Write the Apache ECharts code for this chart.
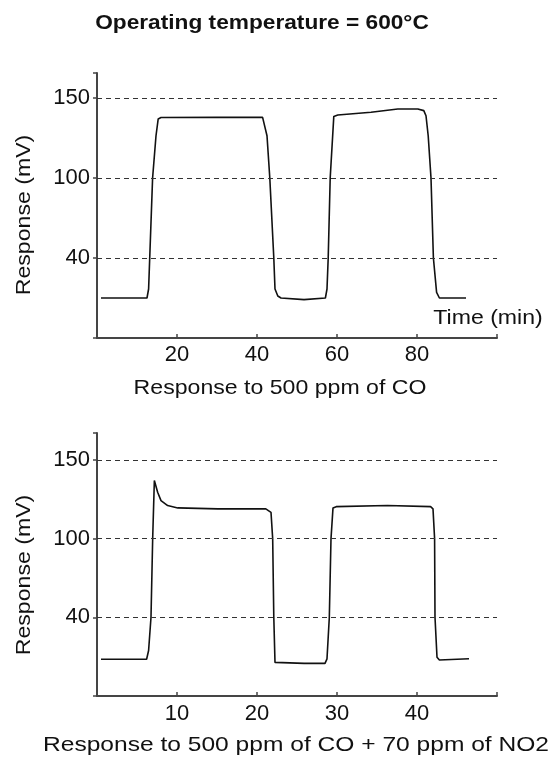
<!DOCTYPE html>
<html>
<head>
<meta charset="utf-8">
<style>
  html, body { margin: 0; padding: 0; background: #fff; }
  #chart { width: 558px; height: 759px; }
</style>
<script src="https://cdn.jsdelivr.net/npm/echarts@6/dist/echarts.min.js"></script>
</head>
<body>
<div id="chart"></div>
<script>
// Response to 500 ppm CO (time in min, response in mV)
const coTime = [1, 12.5, 12.9, 13.9, 14.75, 15.3, 16, 30, 41.4, 42.5, 43.2, 44.2, 44.5, 45.2, 46,
  51.75, 57.1, 57.5, 57.8, 58.3, 59.2, 60.2, 68.5, 75.2, 80.2, 81.7, 82.25, 82.8, 83.5, 84.1, 84.9, 85.6, 92.25];
const coResponse = [20, 20, 24.5, 100, 126.4, 136.9, 137.8, 138, 137.9, 126.4, 100, 40, 24.5, 21, 20,
  19.2, 20, 24.5, 40, 100, 138.5, 139.4, 141.1, 143.1, 143.1, 142.1, 138.9, 126.4, 100, 40, 22.8, 20, 20];

// Response to 500 ppm CO + 70 ppm NO2
const mixTime = [0.5, 6.2, 6.45, 6.75, 6.96, 7.17, 7.58, 8.0, 8.83, 10.1, 15.1, 21.1, 21.75, 21.96, 22.1, 22.25,
  25.9, 28.5, 28.75, 29.04, 29.25, 29.5, 29.9, 36.3, 41.7, 42.0, 42.2, 42.25, 42.5, 42.8, 46.5];
const mixResponse = [18.7, 18.7, 23.1, 40, 100, 136.9, 129.4, 124.1, 121, 119.5, 118.9, 118.9, 116.7, 100, 40, 17.1,
  16.6, 16.6, 18.9, 40, 100, 119.5, 120.3, 121, 120.3, 118.9, 100, 40, 19.7, 18.3, 18.9];

// Tick labels
const yTickLabels = [40, 100, 150];          // response levels, evenly spaced on the axis
const coTimeTicks = [20, 40, 60, 80];
const mixTimeTicks = [10, 20, 30, 40];

// The response axis is drawn with evenly spaced reference levels (0, 40, 100, 150 mV);
// values are placed piecewise-linearly between them.
const levelAnchors = [0].concat(yTickLabels);
function mvToLevel(v) {
  for (let i = 0; i < levelAnchors.length - 1; i++) {
    if (v <= levelAnchors[i + 1]) {
      return i + (v - levelAnchors[i]) / (levelAnchors[i + 1] - levelAnchors[i]);
    }
  }
  const n = levelAnchors.length - 1;
  return n + (v - levelAnchors[n]) / (levelAnchors[n] - levelAnchors[n - 1]);
}

const FONT = "'Liberation Sans', Arial, Helvetica, sans-serif";
const INK = '#111111';
const AXIS = '#454545';

function makeXAxis(gridIndex, max, interval, ticks, margin) {
  return {
    type: 'value', gridIndex, min: 0, max, interval,
    axisLine: { show: true, lineStyle: { color: AXIS, width: 2 } },
    axisTick: { show: true, inside: true, length: 4, lineStyle: { color: AXIS, width: 1.5 } },
    axisLabel: {
      margin, color: INK, fontFamily: FONT, fontSize: 22,
      formatter: v => (ticks.indexOf(v) >= 0 ? String(v) : '')
    },
    splitLine: { show: false }
  };
}

function makeYAxis(gridIndex, max) {
  return {
    type: 'value', gridIndex, min: 0, max, interval: 1,
    axisLine: { show: true, lineStyle: { color: AXIS, width: 2 } },
    axisTick: { show: true, inside: false, length: 4, lineStyle: { color: AXIS, width: 1.5 } },
    axisLabel: {
      margin: 7, color: INK, fontFamily: FONT, fontSize: 22,
      formatter: v => (v >= 1 && v <= yTickLabels.length && Number.isInteger(v)) ? String(yTickLabels[v - 1]) : ''
    },
    splitLine: { show: false }
  };
}

// dashed reference lines at the labelled response levels
const refLines = {
  silent: true, symbol: 'none', animation: false,
  label: { show: false },
  lineStyle: { color: '#333', width: 1.2, type: [5, 4] },
  data: yTickLabels.map(v => ({ yAxis: mvToLevel(v) }))
};

function textEl(text, x, y, size, opts) {
  opts = opts || {};
  return {
    type: 'text', x, y,
    rotation: opts.rotation || 0,
    scaleX: opts.scaleX || 1.1,
    style: {
      text, fill: INK,
      font: (opts.bold ? 'bold ' : '') + size + 'px ' + FONT,
      align: 'center', verticalAlign: 'middle',
      textAlign: 'center', textVerticalAlign: 'middle'
    }
  };
}

const chart = echarts.init(document.getElementById('chart'), null, { renderer: 'canvas' });

chart.setOption({
  backgroundColor: '#ffffff',
  animation: false,
  grid: [
    { left: 97, right: 61, top: 73, height: 265 },
    { left: 97, right: 61, top: 433, height: 263 }
  ],
  xAxis: [
    makeXAxis(0, 100, 20, coTimeTicks, 6),
    makeXAxis(1, 50, 10, mixTimeTicks, 7)
  ],
  yAxis: [
    makeYAxis(0, 265 / 80),
    makeYAxis(1, 263 / 78.7)
  ],
  series: [
    {
      type: 'line', xAxisIndex: 0, yAxisIndex: 0, showSymbol: false, smooth: false,
      lineStyle: { color: INK, width: 1.6 },
      markLine: refLines,
      data: coTime.map((t, i) => [t, mvToLevel(coResponse[i])])
    },
    {
      type: 'line', xAxisIndex: 1, yAxisIndex: 1, showSymbol: false, smooth: false,
      lineStyle: { color: INK, width: 1.6 },
      markLine: refLines,
      data: mixTime.map((t, i) => [t, mvToLevel(mixResponse[i])])
    }
  ],
  graphic: [
    textEl('Operating temperature = 600°C', 262, 23, 21, { bold: true, scaleX: 1.08 }),
    textEl('Response (mV)', 24, 215, 21, { rotation: Math.PI / 2 }),
    textEl('Response (mV)', 24, 575, 21, { rotation: Math.PI / 2 }),
    textEl('Time (min)', 488, 318, 21),
    textEl('Response to 500 ppm of CO', 280, 388, 21),
    textEl('Response to 500 ppm of CO + 70 ppm of NO2', 296, 745, 21, { scaleX: 1.17 })
  ]
});
</script>
</body>
</html>
